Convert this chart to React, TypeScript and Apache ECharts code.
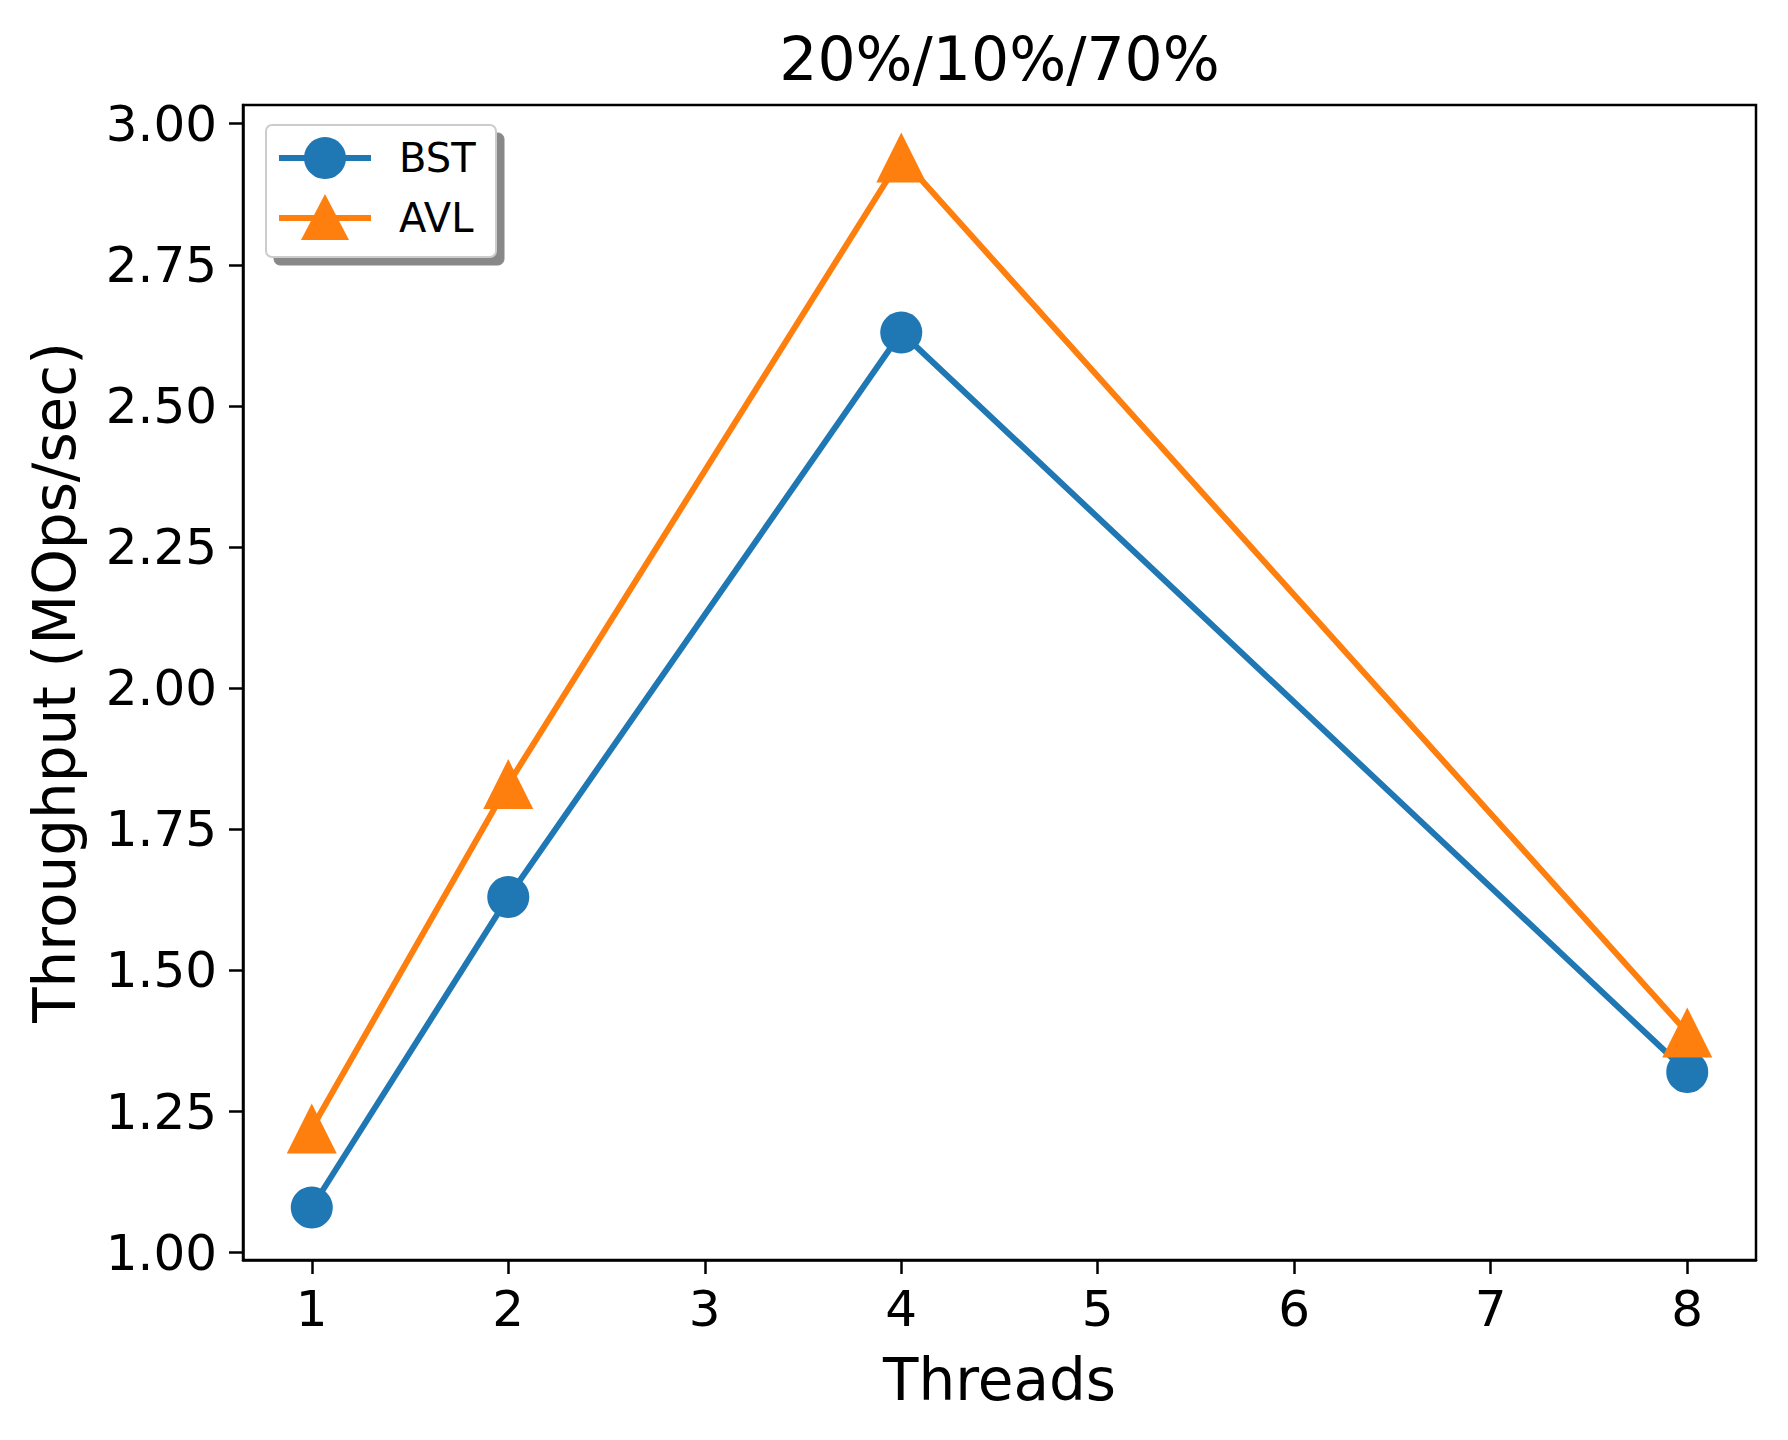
import React, { useEffect, useRef } from "react";
import * as echarts from "echarts";

const threads = [1, 2, 4, 8];
const bst = [1.08, 1.63, 2.63, 1.32];
const avl = [1.22, 1.83, 2.94, 1.39];
const xTicks = [1, 2, 3, 4, 5, 6, 7, 8];
const yTicks = [1.0, 1.25, 1.5, 1.75, 2.0, 2.25, 2.5, 2.75, 3.0];

const FONT = "DejaVu Sans";
const BLUE = "#1f77b4";
const ORANGE = "#ff7f0e";

export default function App() {
  const ref = useRef<HTMLDivElement>(null);
  useEffect(() => {
    document.body.style.margin = "0";
    const chart = echarts.init(ref.current!, null, { renderer: "svg" });
    const L = 243, T = 105, R = 1756, B = 1260;
    chart.setOption({
      animation: false,
      backgroundColor: "#fff",
      grid: { left: L, top: T, right: 1788 - R, bottom: 1440 - B, show: true, borderColor: "#000", borderWidth: 2.5, backgroundColor: "transparent" },
      xAxis: {
        type: "value", min: 0.65, max: 8.35,
        splitLine: { show: false },
        axisLine: { lineStyle: { color: "#000", width: 2.5 } },
        axisTick: { customValues: xTicks, length: 14, lineStyle: { color: "#000", width: 2.5 } },
        axisLabel: { customValues: xTicks, margin: 24, fontFamily: FONT, fontSize: 50, color: "#000" },
      },
      yAxis: {
        type: "value", min: 0.987, max: 3.033,
        splitLine: { show: false },
        axisLine: { lineStyle: { color: "#000", width: 2.5 } },
        axisTick: { customValues: yTicks, length: 14, lineStyle: { color: "#000", width: 2.5 } },
        axisLabel: { customValues: yTicks, margin: 26, fontFamily: FONT, fontSize: 50, color: "#000", formatter: (v: number) => v.toFixed(2) },
      },
      series: [
        { type: "line", data: threads.map((t, i) => [t, bst[i]]), symbol: "circle", symbolSize: 42, lineStyle: { color: BLUE, width: 6 }, itemStyle: { color: BLUE } },
        { type: "line", data: threads.map((t, i) => [t, avl[i]]), symbol: "triangle", symbolSize: 50, lineStyle: { color: ORANGE, width: 6 }, itemStyle: { color: ORANGE } },
      ],
      graphic: [
        { type: "text", x: (L + R) / 2, y: 59, style: { text: "20%/10%/70%", font: `60px '${FONT}'`, fill: "#000", textAlign: "center", textVerticalAlign: "middle" } },
        { type: "text", x: (L + R) / 2, y: 1380, style: { text: "Threads", font: `58px '${FONT}'`, fill: "#000", textAlign: "center", textVerticalAlign: "middle" } },
        { type: "text", x: 55, y: (T + B) / 2, rotation: Math.PI / 2, style: { text: "Throughput (MOps/sec)", font: `58px '${FONT}'`, fill: "#000", textAlign: "center", textVerticalAlign: "middle" } },
        { type: "rect", shape: { x: 274, y: 133, width: 230, height: 132, r: 6 }, style: { fill: "#888", stroke: "#888" }, z: 10 },
        { type: "rect", shape: { x: 266, y: 125, width: 230, height: 132, r: 6 }, style: { fill: "#fff", stroke: "#ccc", lineWidth: 2 }, z: 11 },
        { type: "line", shape: { x1: 279, y1: 158, x2: 371, y2: 158 }, style: { stroke: BLUE, lineWidth: 6 }, z: 12 },
        { type: "circle", shape: { cx: 325, cy: 158, r: 21 }, style: { fill: BLUE }, z: 12 },
        { type: "text", x: 399, y: 158, style: { text: "BST", font: `40px '${FONT}'`, fill: "#000", textVerticalAlign: "middle" }, z: 12 },
        { type: "line", shape: { x1: 279, y1: 218, x2: 371, y2: 218 }, style: { stroke: ORANGE, lineWidth: 6 }, z: 12 },
        { type: "polygon", shape: { points: [[325, 194], [349, 240], [301, 240]] }, style: { fill: ORANGE }, z: 12 },
        { type: "text", x: 399, y: 218, style: { text: "AVL", font: `40px '${FONT}'`, fill: "#000", textVerticalAlign: "middle" }, z: 12 },
      ],
    });
    return () => chart.dispose();
  }, []);
  return <div ref={ref} style={{ width: 1788, height: 1440 }} />;
}
